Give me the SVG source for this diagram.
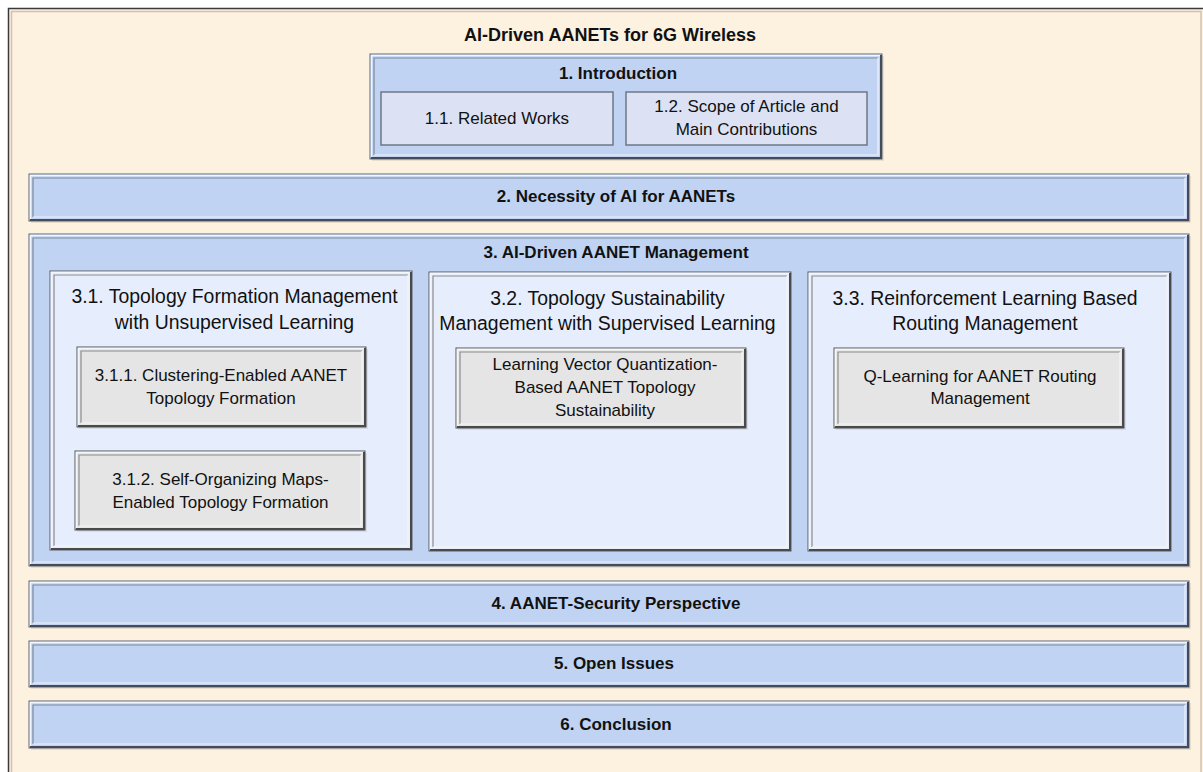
<svg xmlns="http://www.w3.org/2000/svg" width="1203" height="772" viewBox="0 0 1203 772">
<style>
  text { font-family: "Liberation Sans", Arial, sans-serif; fill: #111; text-anchor: middle; }
  .b { font-weight: bold; font-size: 17px; }
  .ttl { font-weight: bold; font-size: 18px; }
  .t19 { font-size: 19.4px; }
  .t17 { font-size: 17px; }
  .blue { fill: #C0D3F2; stroke: #5e6676; stroke-width: 1; }
  .panel { fill: #E6EEFD; stroke: #5a5f68; stroke-width: 1; }
  .gray { fill: #E5E5E5; stroke: #555; stroke-width: 1; }
  .plain { fill: #DCE2F3; stroke: #6f7786; stroke-width: 1.5; }
  .hi { fill: none; stroke: #f2f6fd; stroke-width: 1.5; }
  .in { fill: none; stroke: #7f8a9c; stroke-width: 1.2; }
  .il { fill: none; stroke: #eef2fb; stroke-width: 1.2; }
  .sh { fill: none; stroke: #454b58; stroke-width: 2; }
  .gin { fill: none; stroke: #8c8c8c; stroke-width: 1.2; }
  .gil { fill: none; stroke: #f6f6f6; stroke-width: 1.2; }
  .gsh { fill: none; stroke: #4a4a4a; stroke-width: 2; }
  .shadow { fill: #000; opacity: 0.08; }
</style>
<rect x="0" y="0" width="1203" height="772" fill="#ffffff"/>
<g id="frame">
  <rect x="8.5" y="8.5" width="1200" height="800" fill="#FDF1E0" stroke="#3a3a3a" stroke-width="1.5"/>
  <rect x="11.5" y="11.5" width="1189.5" height="800" fill="none" stroke="#d2c2b4" stroke-width="1.5"/>
  <text class="ttl" x="610" y="41">AI-Driven AANETs for 6G Wireless</text>
</g>

<g id="connectors"></g>

<g id="sec1" transform="translate(370,54)">
  <rect class="shadow" x="2" y="2" width="512" height="105"/>
  <rect class="blue" x="0" y="0" width="512" height="105"/>
  <path class="hi" d="M1.5,103.5V1.5H510.5"/>
  <path class="in" d="M4,101V4H508"/>
  <path class="il" d="M4,101H508V4"/>
  <path class="sh" d="M1,104H511V1"/>
  <text class="b" x="248" y="25">1. Introduction</text>
</g>
<g id="sec1_1">
  <rect class="plain" x="381" y="92" width="232" height="53"/>
  <text class="t17" x="497" y="124">1.1. Related Works</text>
</g>
<g id="sec1_2">
  <rect class="plain" x="626" y="92" width="241" height="53"/>
  <text class="t17" x="746.5" y="112">1.2. Scope of Article and</text>
  <text class="t17" x="746.5" y="135">Main Contributions</text>
</g>

<g id="sec2" transform="translate(29,174)">
  <rect class="shadow" x="2" y="2" width="1160" height="47"/>
  <rect class="blue" x="0" y="0" width="1160" height="47"/>
  <path class="hi" d="M1.5,45.5V1.5H1158.5"/>
  <path class="in" d="M4,43V4H1156"/>
  <path class="il" d="M4,43H1156V4"/>
  <path class="sh" d="M1,46H1159V1"/>
  <text class="b" x="587" y="28">2. Necessity of AI for AANETs</text>
</g>

<g id="sec3" transform="translate(29,234)">
  <rect class="shadow" x="2" y="2" width="1160" height="332"/>
  <rect class="blue" x="0" y="0" width="1160" height="332"/>
  <path class="hi" d="M1.5,330.5V1.5H1158.5"/>
  <path class="in" d="M4,328V4H1156"/>
  <path class="il" d="M4,328H1156V4"/>
  <path class="sh" d="M1,331H1159V1"/>
  <text class="b" x="587" y="24">3. AI-Driven AANET Management</text>
</g>

<g id="sec3_1" transform="translate(50,271)">
  <rect class="panel" x="0" y="0" width="362" height="279"/>
  <path class="hi" d="M1.5,277.5V1.5H360.5"/>
  <path class="gin" d="M4,275V4H358"/>
  <path class="gil" d="M4,275H358V4"/>
  <path class="gsh" d="M1,278H361V1"/>
  <text class="t19" x="184.5" y="32">3.1. Topology Formation Management</text>
  <text class="t19" x="184.5" y="58">with Unsupervised Learning</text>
</g>
<g id="sec3_1_1" transform="translate(77,347)">
  <rect class="shadow" x="2" y="2" width="289" height="80"/>
  <rect class="gray" x="0" y="0" width="289" height="80"/>
  <path class="hi" d="M1.5,78.5V1.5H287.5"/>
  <path class="gin" d="M4,76V4H285"/>
  <path class="gil" d="M4,76H285V4"/>
  <path class="gsh" d="M1,79H288V1"/>
  <text class="t17" x="144" y="34">3.1.1. Clustering-Enabled AANET</text>
  <text class="t17" x="144" y="57">Topology Formation</text>
</g>
<g id="sec3_1_2" transform="translate(75,451)">
  <rect class="shadow" x="2" y="2" width="290" height="79"/>
  <rect class="gray" x="0" y="0" width="290" height="79"/>
  <path class="hi" d="M1.5,77.5V1.5H288.5"/>
  <path class="gin" d="M4,75V4H286"/>
  <path class="gil" d="M4,75H286V4"/>
  <path class="gsh" d="M1,78H289V1"/>
  <text class="t17" x="145.5" y="34">3.1.2. Self-Organizing Maps-</text>
  <text class="t17" x="145.5" y="57">Enabled Topology Formation</text>
</g>

<g id="sec3_2" transform="translate(429,272)">
  <rect class="panel" x="0" y="0" width="362" height="279"/>
  <path class="hi" d="M1.5,277.5V1.5H360.5"/>
  <path class="gin" d="M4,275V4H358"/>
  <path class="gil" d="M4,275H358V4"/>
  <path class="gsh" d="M1,278H361V1"/>
  <text class="t19" x="178.5" y="33">3.2. Topology Sustainability</text>
  <text class="t19" x="178.5" y="58">Management with Supervised Learning</text>
</g>
<g id="sec3_2_1" transform="translate(456,348)">
  <rect class="shadow" x="2" y="2" width="290" height="80"/>
  <rect class="gray" x="0" y="0" width="290" height="80"/>
  <path class="hi" d="M1.5,78.5V1.5H288.5"/>
  <path class="gin" d="M4,76V4H286"/>
  <path class="gil" d="M4,76H286V4"/>
  <path class="gsh" d="M1,79H289V1"/>
  <text class="t17" x="149" y="22">Learning Vector Quantization-</text>
  <text class="t17" x="149" y="45">Based AANET Topology</text>
  <text class="t17" x="149" y="68">Sustainability</text>
</g>

<g id="sec3_3" transform="translate(808,272)">
  <rect class="panel" x="0" y="0" width="363" height="279"/>
  <path class="hi" d="M1.5,277.5V1.5H361.5"/>
  <path class="gin" d="M4,275V4H359"/>
  <path class="gil" d="M4,275H359V4"/>
  <path class="gsh" d="M1,278H362V1"/>
  <text class="t19" x="177" y="33">3.3. Reinforcement Learning Based</text>
  <text class="t19" x="177" y="58">Routing Management</text>
</g>
<g id="sec3_3_1" transform="translate(834,348)">
  <rect class="shadow" x="2" y="2" width="290" height="80"/>
  <rect class="gray" x="0" y="0" width="290" height="80"/>
  <path class="hi" d="M1.5,78.5V1.5H288.5"/>
  <path class="gin" d="M4,76V4H286"/>
  <path class="gil" d="M4,76H286V4"/>
  <path class="gsh" d="M1,79H289V1"/>
  <text class="t17" x="146" y="34">Q-Learning for AANET Routing</text>
  <text class="t17" x="146" y="56">Management</text>
</g>

<g id="sec4" transform="translate(29,581)">
  <rect class="shadow" x="2" y="2" width="1160" height="46"/>
  <rect class="blue" x="0" y="0" width="1160" height="46"/>
  <path class="hi" d="M1.5,44.5V1.5H1158.5"/>
  <path class="in" d="M4,42V4H1156"/>
  <path class="il" d="M4,42H1156V4"/>
  <path class="sh" d="M1,45H1159V1"/>
  <text class="b" x="587" y="28">4. AANET-Security Perspective</text>
</g>
<g id="sec5" transform="translate(29,641)">
  <rect class="shadow" x="2" y="2" width="1160" height="46"/>
  <rect class="blue" x="0" y="0" width="1160" height="46"/>
  <path class="hi" d="M1.5,44.5V1.5H1158.5"/>
  <path class="in" d="M4,42V4H1156"/>
  <path class="il" d="M4,42H1156V4"/>
  <path class="sh" d="M1,45H1159V1"/>
  <text class="b" x="585" y="28">5. Open Issues</text>
</g>
<g id="sec6" transform="translate(29,701)">
  <rect class="shadow" x="2" y="2" width="1160" height="47"/>
  <rect class="blue" x="0" y="0" width="1160" height="47"/>
  <path class="hi" d="M1.5,45.5V1.5H1158.5"/>
  <path class="in" d="M4,43V4H1156"/>
  <path class="il" d="M4,43H1156V4"/>
  <path class="sh" d="M1,46H1159V1"/>
  <text class="b" x="587" y="29">6. Conclusion</text>
</g>
</svg>
